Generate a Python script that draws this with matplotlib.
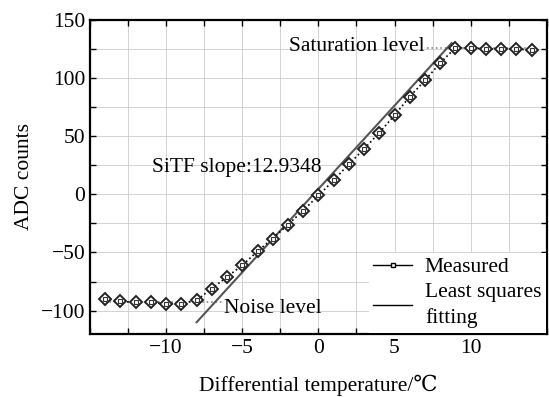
import numpy as np
import matplotlib.pyplot as plt
from matplotlib.ticker import MultipleLocator
from matplotlib.lines import Line2D

plt.rcParams['font.family'] = ['Liberation Serif', 'DejaVu Serif']

# measured ADC counts vs differential temperature
temp = np.arange(-14, 15)
adc = [-90, -92, -93, -93, -94, -94, -91, -81, -71, -61, -49, -38, -26, -14,
       -1, 12, 26, 39, 53, 68, 84, 98, 113, 126, 126, 125, 125, 125, 124]

# least squares fitting line (end points)
fit_x = [-8.0, 8.75]
fit_y = [-110, 130]

noise_level = -93
saturation_level = 126

fig = plt.figure(figsize=(5.49, 3.97), dpi=100)
ax = fig.add_axes([0.164, 0.159, 0.832, 0.791])

ax.plot(fit_x, fit_y, color='#555555', lw=1.5, zorder=3)
ax.plot(temp, adc, color='black', ls=':', lw=1.2, marker='D', ms=6,
        mfc='white', mec='#222222', mew=1.4, zorder=4)
ax.plot(temp, adc, ls='none', marker='s', ms=2.2, mfc='none', mec='#333333',
        mew=0.8, zorder=5)

# annotation leader lines
ax.plot([-14, -6.3], [noise_level, noise_level], color='#888888', ls=':', lw=1.2, zorder=2)
ax.plot([7.1, 14], [saturation_level, saturation_level], color='#888888', ls=':', lw=1.2, zorder=2)

fs = 15.5
ax.text(-6.2, noise_level - 5, 'Noise level', fontsize=fs, va='center', ha='left')
ax.text(7.0, saturation_level + 1, 'Saturation level', fontsize=fs, va='center', ha='right')
ax.text(-10.9, 23, 'SiTF slope:12.9348', fontsize=fs, va='center', ha='left')

ax.set_xlim(-15, 15)
ax.set_ylim(-120, 150)
ax.xaxis.set_minor_locator(MultipleLocator(2.5))
ax.yaxis.set_minor_locator(MultipleLocator(25))
ax.set_xticks([-10, -5, 0, 5, 10])
ax.set_xticklabels(['\u221210', '\u22125', '0', '5', '10'])
ax.set_yticks([-100, -50, 0, 50, 100, 150])
ax.set_yticklabels(['\u2212100', '\u221250', '0', '50', '100', '150'])
ax.tick_params(which='both', direction='in', top=True, right=True, length=4,
               width=1, labelsize=fs)
ax.grid(which='both', color='#cccccc', lw=0.6, ls='-')
ax.set_axisbelow(True)
for sp in ax.spines.values():
    sp.set_linewidth(1.6)

ax.set_xlabel('Differential temperature/\u2103', fontsize=fs, labelpad=12)
ax.set_ylabel('ADC counts', fontsize=fs, labelpad=5)

handles = [Line2D([], [], color='black', lw=1, marker='s', ms=3.5, mfc='white', mec='black'),
           Line2D([], [], color='black', lw=1)]
leg = ax.legend(handles, ['Measured', 'Least squares\nfitting'], loc='lower right',
                fontsize=fs, frameon=True, fancybox=False, edgecolor='none',
                framealpha=1, handlelength=1.8, handletextpad=0.6,
                labelspacing=0.25, borderaxespad=0.05, borderpad=0.2)
for t in leg.get_texts():
    t.set_linespacing(1.45)
leg.set_zorder(6)

fig.savefig('out.png', dpi=100)
